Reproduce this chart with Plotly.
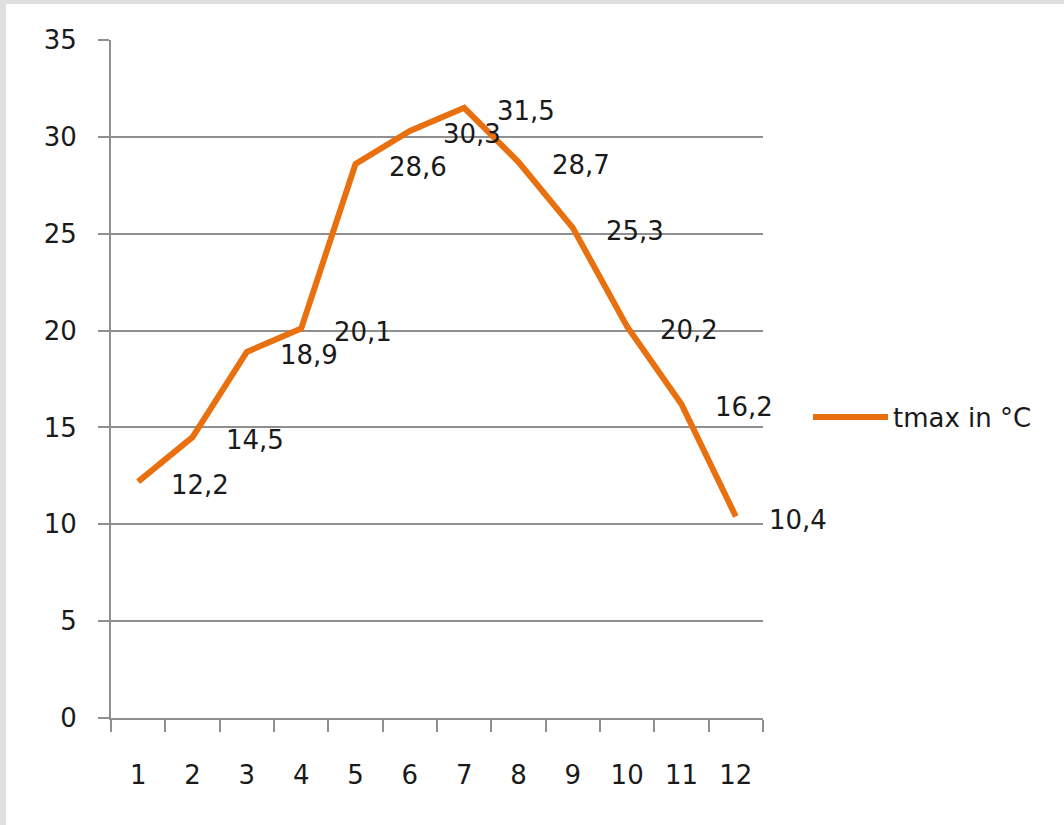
import plotly.graph_objects as go

months = ["1", "2", "3", "4", "5", "6", "7", "8", "9", "10", "11", "12"]
tmax = [12.2, 14.5, 18.9, 20.1, 28.6, 30.3, 31.5, 28.7, 25.3, 20.2, 16.2, 10.4]
labels = ["12,2", "14,5", "18,9", "20,1", "28,6", "30,3", "31,5", "28,7", "25,3", "20,2", "16,2", "10,4"]
series_name = "tmax in °C"
y_ticks = [0, 5, 10, 15, 20, 25, 30, 35]

FONT = "DejaVu Sans"
ORANGE = "#E8700E"
GRID = "#8f8f8f"
FS = 26

fig = go.Figure()
fig.add_trace(go.Scatter(
    x=months, y=tmax, mode="lines", name=series_name,
    line=dict(color=ORANGE, width=6),
))

# category axis positions are indices 0..11
for i, (v, t) in enumerate(zip(tmax, labels)):
    fig.add_annotation(x=i, y=v, text=t, showarrow=False, xshift=62, yshift=-3,
                       font=dict(family=FONT, size=FS, color="#1a1a1a"))

W, H = 1064, 825
L, R, T, B = 111, 301, 40, 107
pw, ph = W - L - R, H - T - B

def px_x(p):
    return (p - L) / pw

def px_y(p):
    return (H - B - p) / ph

fig.add_shape(type="rect", xref="paper", yref="paper",
              x0=px_x(0), x1=px_x(6), y0=px_y(H), y1=px_y(0),
              fillcolor="#dedfe0", line=dict(width=0), layer="below")
fig.add_shape(type="rect", xref="paper", yref="paper",
              x0=px_x(0), x1=px_x(W), y0=px_y(4), y1=px_y(0),
              fillcolor="#dedfe0", line=dict(width=0), layer="below")

fig.update_layout(
    width=W, height=H,
    margin=dict(l=L, r=R, t=T, b=B),
    paper_bgcolor="white", plot_bgcolor="white",
    font=dict(family=FONT, size=FS, color="#1a1a1a"),
    showlegend=True,
    legend=dict(x=px_x(808), y=px_y(417), xanchor="left", yanchor="middle",
                font=dict(family=FONT, size=FS, color="#1a1a1a"),
                itemwidth=75, bgcolor="rgba(0,0,0,0)"),
    xaxis=dict(type="category", categoryorder="array", categoryarray=months,
               range=[-0.5, 11.5], showgrid=False, tickson="boundaries",
               ticks="outside", ticklen=12, tickwidth=2, tickcolor=GRID,
               showline=True, linecolor=GRID, linewidth=2,
               tickfont=dict(family=FONT, size=FS), ticklabelstandoff=33),
    yaxis=dict(range=[0, 35], tickvals=y_ticks, showgrid=True, gridcolor=GRID,
               gridwidth=2, zeroline=False, ticks="outside", ticklen=11,
               tickwidth=2, tickcolor=GRID, showline=True, linecolor=GRID,
               linewidth=2, tickfont=dict(family=FONT, size=FS),
               ticklabelstandoff=16),
)

fig.write_html("out.html", post_script="document.body.style.margin='0';",
               config={"displayModeBar": False})
